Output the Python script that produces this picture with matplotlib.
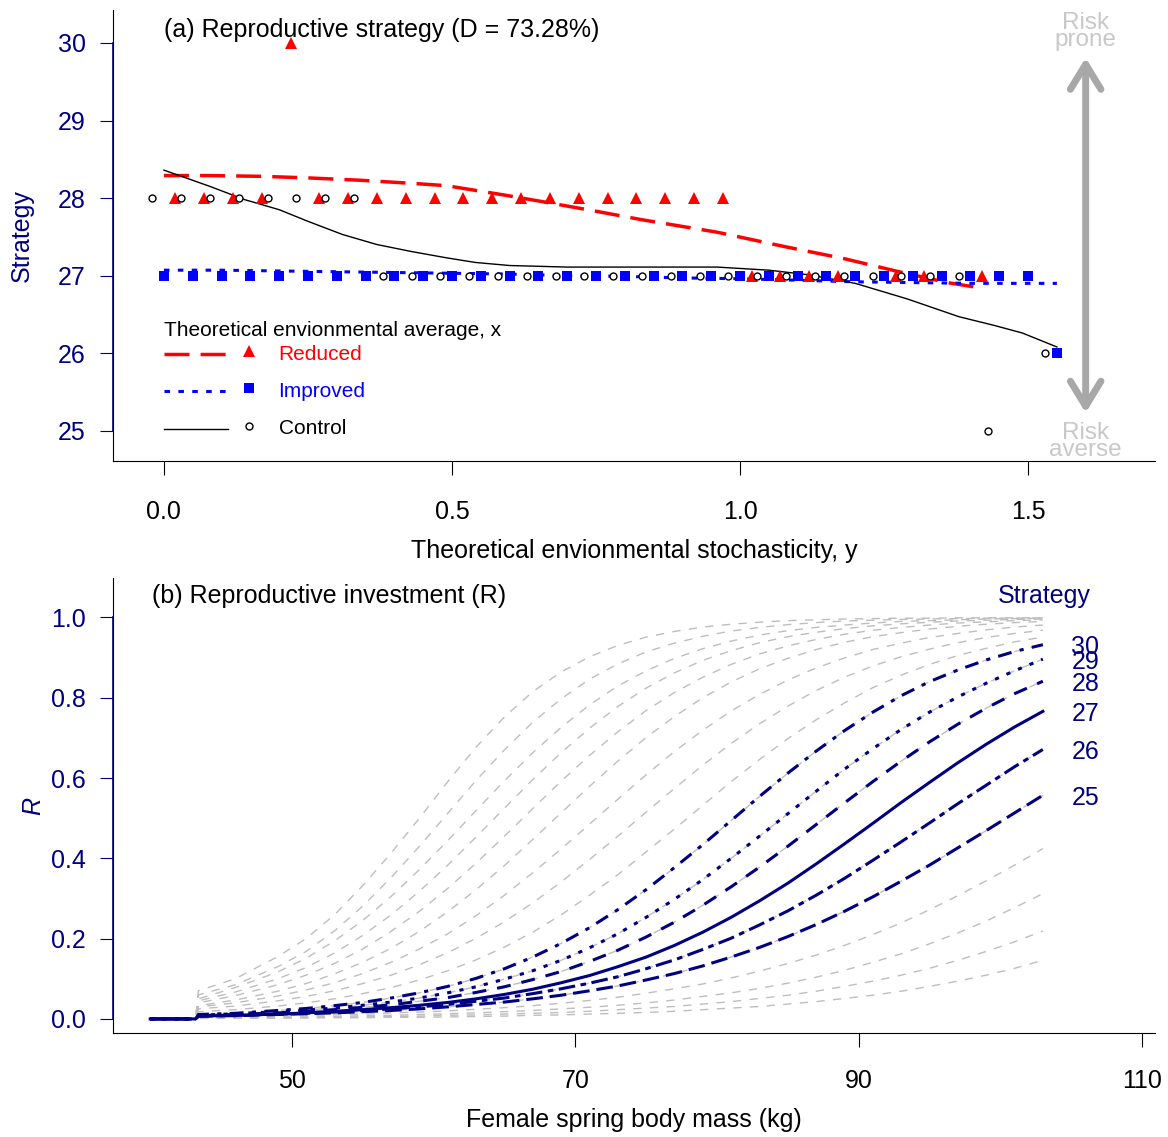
import matplotlib
matplotlib.use("Agg")
import matplotlib.pyplot as plt

plt.rcParams["font.family"] = ["Liberation Sans", "DejaVu Sans"]
plt.rcParams["lines.scale_dashes"] = False

NAVY = "#000080"
GRAY = "#BEBEBE"

# ---- panel (a): optimal strategy vs environmental stochasticity ----
reduced_x = [0.02, 0.07, 0.12, 0.17, 0.22, 0.27, 0.32, 0.37, 0.42, 0.47, 0.52, 0.57, 0.62, 0.67,
             0.72, 0.77, 0.82, 0.87, 0.92, 0.97, 1.02, 1.07, 1.12, 1.17, 1.27, 1.32, 1.42]
reduced_y = [28, 28, 28, 28, 30, 28, 28, 28, 28, 28, 28, 28, 28, 28,
             28, 28, 28, 28, 28, 28, 27, 27, 27, 27, 27, 27, 27]

improved_x = [0.00, 0.05, 0.10, 0.15, 0.20, 0.25, 0.30, 0.35, 0.40, 0.45, 0.50, 0.55, 0.60, 0.65,
              0.70, 0.75, 0.80, 0.85, 0.90, 0.95, 1.00, 1.05, 1.10, 1.15, 1.20, 1.25, 1.30, 1.35,
              1.40, 1.45, 1.50, 1.55]
improved_y = [27, 27, 27, 27, 27, 27, 27, 27, 27, 27, 27, 27, 27, 27,
              27, 27, 27, 27, 27, 27, 27, 27, 27, 27, 27, 27, 27, 27,
              27, 27, 27, 26]

control_x = [-0.02, 0.03, 0.08, 0.13, 0.18, 0.23, 0.28, 0.33, 0.38, 0.43, 0.48, 0.53, 0.58, 0.63,
             0.68, 0.73, 0.78, 0.83, 0.88, 0.93, 0.98, 1.03, 1.08, 1.13, 1.18, 1.23, 1.28, 1.33,
             1.38, 1.43, 1.53]
control_y = [28, 28, 28, 28, 28, 28, 28, 28, 27, 27, 27, 27, 27, 27,
             27, 27, 27, 27, 27, 27, 27, 27, 27, 27, 27, 27, 27, 27,
             27, 25, 26]

# smoothed trends
reduced_line_x = [0.0, 0.08, 0.17, 0.25, 0.34, 0.43, 0.49, 0.54, 0.59, 0.66, 0.75, 0.83, 0.96,
                  1.08, 1.18, 1.27, 1.36, 1.41]
reduced_line_y = [28.29, 28.29, 28.28, 28.26, 28.23, 28.19, 28.16, 28.10, 28.04, 27.95, 27.83,
                  27.72, 27.56, 27.37, 27.22, 27.06, 26.91, 26.85]

improved_line_x = [0.0, 0.1, 0.2, 0.3, 0.4, 0.5, 0.6, 0.7, 0.8, 0.9, 1.0, 1.1, 1.2, 1.3, 1.4, 1.5, 1.55]
improved_line_y = [27.07, 27.07, 27.06, 27.05, 27.04, 27.03, 27.02, 27.00, 26.99, 26.97, 26.96,
                   26.94, 26.92, 26.91, 26.90, 26.90, 26.90]

control_line_x = [0.0, 0.08, 0.14, 0.2, 0.25, 0.31, 0.37, 0.43, 0.49, 0.54, 0.6, 0.7, 0.8, 0.9,
                  0.96, 1.05, 1.12, 1.2, 1.29, 1.38, 1.44, 1.49, 1.55]
control_line_y = [28.36, 28.15, 27.98, 27.85, 27.70, 27.53, 27.40, 27.31, 27.23, 27.17, 27.13,
                  27.11, 27.11, 27.11, 27.11, 27.07, 27.01, 26.90, 26.70, 26.47, 26.36, 26.26, 26.08]

# ---- panel (b): reproductive investment R per strategy, vs body mass ----
mass = [40, 43.2, 43.4, 46, 49, 51, 53, 55, 57, 59, 61, 63, 65, 67, 69, 71, 73, 75, 77, 79,
        81, 83, 85, 87, 89, 91, 93, 95, 97, 99, 101, 103]

r21 = [0, 0, 0.001, 0.002, 0.002, 0.002, 0.003, 0.003, 0.004, 0.004, 0.005, 0.006, 0.007, 0.009, 0.010, 0.012,
       0.014, 0.016, 0.019, 0.023, 0.027, 0.031, 0.037, 0.043, 0.051, 0.059, 0.069, 0.081, 0.094, 0.109, 0.126, 0.146]
r22 = [0, 0, 0.002, 0.002, 0.003, 0.004, 0.004, 0.005, 0.006, 0.007, 0.009, 0.010, 0.012, 0.014, 0.016, 0.019,
       0.023, 0.027, 0.031, 0.037, 0.043, 0.051, 0.059, 0.069, 0.081, 0.094, 0.109, 0.126, 0.146, 0.168, 0.192, 0.219]
r23 = [0, 0, 0.003, 0.004, 0.005, 0.005, 0.006, 0.008, 0.009, 0.011, 0.013, 0.015, 0.018, 0.021, 0.025, 0.029,
       0.034, 0.040, 0.047, 0.056, 0.065, 0.076, 0.089, 0.104, 0.121, 0.141, 0.162, 0.187, 0.214, 0.244, 0.277, 0.312]
r24 = [0, 0, 0.005, 0.006, 0.007, 0.009, 0.010, 0.012, 0.015, 0.017, 0.020, 0.024, 0.028, 0.033, 0.039, 0.046,
       0.054, 0.064, 0.075, 0.087, 0.102, 0.119, 0.138, 0.159, 0.183, 0.210, 0.239, 0.272, 0.307, 0.344, 0.383, 0.424]
r25 = [0, 0, 0.007, 0.008, 0.011, 0.013, 0.015, 0.018, 0.021, 0.025, 0.030, 0.036, 0.042, 0.050, 0.059, 0.070,
       0.082, 0.097, 0.113, 0.132, 0.154, 0.178, 0.205, 0.235, 0.268, 0.304, 0.343, 0.383, 0.426, 0.469, 0.513, 0.557]
r26 = [0, 0, 0.007, 0.009, 0.012, 0.014, 0.017, 0.021, 0.025, 0.030, 0.036, 0.044, 0.052, 0.063, 0.075, 0.089,
       0.105, 0.125, 0.147, 0.173, 0.201, 0.234, 0.269, 0.308, 0.350, 0.395, 0.441, 0.488, 0.536, 0.582, 0.628, 0.671]
r27 = [0, 0, 0.007, 0.009, 0.012, 0.015, 0.019, 0.023, 0.028, 0.034, 0.041, 0.050, 0.061, 0.074, 0.090, 0.108,
       0.130, 0.154, 0.183, 0.216, 0.253, 0.294, 0.338, 0.386, 0.436, 0.487, 0.539, 0.589, 0.638, 0.684, 0.727, 0.766]
r28 = [0, 0, 0.008, 0.011, 0.015, 0.019, 0.023, 0.029, 0.035, 0.044, 0.053, 0.066, 0.080, 0.098, 0.118, 0.143,
       0.171, 0.204, 0.241, 0.283, 0.329, 0.378, 0.430, 0.484, 0.538, 0.591, 0.642, 0.690, 0.734, 0.774, 0.810, 0.841]
r29 = [0, 0, 0.009, 0.013, 0.018, 0.022, 0.027, 0.034, 0.042, 0.052, 0.065, 0.080, 0.099, 0.120, 0.146, 0.177,
       0.212, 0.253, 0.298, 0.347, 0.400, 0.455, 0.511, 0.567, 0.622, 0.673, 0.721, 0.764, 0.802, 0.836, 0.867, 0.896]
r30 = [0, 0, 0.011, 0.014, 0.021, 0.026, 0.033, 0.041, 0.052, 0.065, 0.081, 0.101, 0.125, 0.154, 0.188, 0.227,
       0.272, 0.322, 0.377, 0.434, 0.494, 0.554, 0.612, 0.667, 0.718, 0.764, 0.805, 0.840, 0.869, 0.894, 0.915, 0.932]
r31 = [0, 0, 0.018, 0.023, 0.032, 0.040, 0.050, 0.063, 0.078, 0.097, 0.120, 0.147, 0.179, 0.216, 0.259, 0.308,
       0.359, 0.416, 0.473, 0.532, 0.591, 0.646, 0.698, 0.745, 0.787, 0.825, 0.856, 0.883, 0.905, 0.923, 0.939, 0.951]
r32 = [0, 0, 0.025, 0.032, 0.045, 0.056, 0.070, 0.088, 0.109, 0.135, 0.165, 0.201, 0.242, 0.289, 0.341, 0.397,
       0.455, 0.515, 0.574, 0.632, 0.686, 0.735, 0.779, 0.818, 0.851, 0.879, 0.902, 0.921, 0.937, 0.950, 0.960, 0.968]
r33 = [0, 0, 0.030, 0.040, 0.057, 0.072, 0.090, 0.113, 0.141, 0.174, 0.212, 0.257, 0.308, 0.364, 0.423, 0.485,
       0.547, 0.608, 0.666, 0.719, 0.767, 0.808, 0.844, 0.874, 0.899, 0.920, 0.936, 0.950, 0.960, 0.969, 0.976, 0.981]
r34 = [0, 0, 0.033, 0.047, 0.069, 0.088, 0.112, 0.141, 0.176, 0.218, 0.267, 0.322, 0.382, 0.447, 0.513, 0.579,
       0.642, 0.701, 0.753, 0.800, 0.839, 0.872, 0.898, 0.920, 0.938, 0.952, 0.962, 0.971, 0.978, 0.983, 0.987, 0.990]
r35 = [0, 0, 0.040, 0.058, 0.085, 0.109, 0.138, 0.174, 0.218, 0.268, 0.325, 0.388, 0.455, 0.524, 0.592, 0.656,
       0.715, 0.768, 0.813, 0.851, 0.883, 0.909, 0.929, 0.945, 0.958, 0.968, 0.975, 0.981, 0.986, 0.989, 0.992, 0.994]
r36 = [0, 0, 0.045, 0.067, 0.100, 0.128, 0.164, 0.208, 0.259, 0.318, 0.383, 0.453, 0.525, 0.596, 0.663, 0.724,
       0.778, 0.824, 0.862, 0.893, 0.917, 0.937, 0.952, 0.963, 0.972, 0.979, 0.984, 0.988, 0.991, 0.993, 0.995, 0.996]
r37 = [0, 0, 0.050, 0.078, 0.117, 0.151, 0.194, 0.245, 0.305, 0.372, 0.444, 0.519, 0.593, 0.663, 0.726, 0.782,
       0.829, 0.867, 0.898, 0.922, 0.941, 0.956, 0.967, 0.975, 0.981, 0.986, 0.990, 0.992, 0.994, 0.996, 0.997, 0.998]
r38 = [0, 0, 0.060, 0.085, 0.130, 0.168, 0.219, 0.281, 0.352, 0.430, 0.512, 0.594, 0.670, 0.739, 0.797, 0.846,
       0.884, 0.914, 0.936, 0.953, 0.966, 0.975, 0.982, 0.987, 0.991, 0.993, 0.995, 0.996, 0.997, 0.998, 0.998, 0.999]
r39 = [0, 0, 0.070, 0.100, 0.155, 0.200, 0.259, 0.332, 0.413, 0.500, 0.591, 0.677, 0.752, 0.815, 0.864, 0.902,
       0.930, 0.951, 0.965, 0.976, 0.983, 0.988, 0.992, 0.994, 0.996, 0.997, 0.998, 0.998, 0.999, 0.999, 0.999, 0.999]

all_curves = [r21, r22, r23, r24, r25, r26, r27, r28, r29, r30,
              r31, r32, r33, r34, r35, r36, r37, r38, r39]
highlight = {25: r25, 26: r26, 27: r27, 28: r28, 29: r29, 30: r30}
highlight_dash = {
    25: (0, (12, 5)),
    26: (0, (4, 4, 12, 4)),
    27: "-",
    28: (0, (10, 8)),
    29: (0, (3, 6)),
    30: (0, (3, 6, 10, 6)),
}

fig = plt.figure(figsize=(11.68, 11.37), dpi=100)
ax1 = fig.add_axes([0.0967, 0.5946, 0.892, 0.3966])
ax2 = fig.add_axes([0.0967, 0.0915, 0.892, 0.4001])

# ---------------- panel (a) ----------------
ax1.plot(reduced_line_x, reduced_line_y, color="red", lw=2.5, linestyle=(0, (18, 8)))
ax1.plot(improved_line_x, improved_line_y, color="blue", lw=2.2, linestyle=(0, (4, 6)))
ax1.plot(control_line_x, control_line_y, color="black", lw=1.0)
ax1.plot(reduced_x, reduced_y, "^", color="red", ms=8, mew=0, linestyle="none")
ax1.plot(improved_x, improved_y, "s", color="blue", ms=6.5, mew=0, linestyle="none")
ax1.plot(control_x, control_y, "o", mfc="white", mec="black", ms=5, mew=1, linestyle="none")

ax1.set_xlim(-0.0885, 1.72)
ax1.set_ylim(24.61, 30.425)
ax1.spines["top"].set_visible(False)
ax1.spines["right"].set_visible(False)
ax1.plot([0, 0], [25, 30], color=NAVY, lw=1.2, transform=ax1.get_yaxis_transform(), clip_on=False)

ax1.set_xticks([0.0, 0.5, 1.0, 1.5])
ax1.set_xticklabels(["0.0", "0.5", "1.0", "1.5"])
ax1.set_yticks([25, 26, 27, 28, 29, 30])
ax1.tick_params(axis="x", labelsize=18, length=10, pad=18)
ax1.tick_params(axis="y", colors=NAVY, labelsize=18, length=9.5, pad=10)
ax1.set_xlabel("Theoretical envionmental stochasticity, y", fontsize=18, labelpad=11)
ax1.set_ylabel("Strategy", fontsize=18, color=NAVY, labelpad=17)

ax1.text(0.0, 30.17, "(a) Reproductive strategy (D = 73.28%)", fontsize=18, ha="left", va="center")

# legend drawn by hand to mimic the base-R layout
T = ax1.transAxes
ax1.text(0.049, 0.290, "Theoretical envionmental average, x", fontsize=15, ha="left", va="center",
         transform=T)
legend_rows = [
    ("Reduced", "red", (0, (18, 8)), 2.5, "^", 0.237, dict(mfc="red", mec="red", ms=8, mew=0)),
    ("Improved", "blue", (0, (4, 6)), 2.2, "s", 0.155, dict(mfc="blue", mec="blue", ms=6.5, mew=0)),
    ("Control", "black", "-", 1.0, "o", 0.071, dict(mfc="white", mec="black", ms=5, mew=1)),
]
for label, col, ls, lw, mk, yy, mkw in legend_rows:
    ax1.plot([0.049, 0.110], [yy, yy], color=col, lw=lw, linestyle=ls, transform=T, clip_on=False)
    ax1.plot([0.131], [yy + 0.006], mk, transform=T, clip_on=False, **mkw)
    ax1.text(0.159, yy, label, color=col, fontsize=15, ha="left", va="center", transform=T)

# risk arrow
ax1.annotate("", xy=(1.60, 29.81), xytext=(1.60, 25.23),
             arrowprops=dict(arrowstyle="<->, head_length=0.9, head_width=0.55", lw=5,
                             color="#A8A8A8", mutation_scale=20, shrinkA=0, shrinkB=0,
                             capstyle="round", joinstyle="round"))
ax1.text(1.60, 30.15, "Risk\nprone", color="#C8C8C8", fontsize=17.5, ha="center", va="center",
         linespacing=0.72, clip_on=False)
ax1.text(1.60, 24.86, "Risk\naverse", color="#C8C8C8", fontsize=17.5, ha="center", va="center",
         linespacing=0.72, clip_on=False)

# ---------------- panel (b) ----------------
for curve in all_curves:
    ax2.plot(mass, curve, color=GRAY, lw=1.0, linestyle=(0, (6, 6)))
for s, curve in highlight.items():
    ax2.plot(mass, curve, color=NAVY, lw=2.2, linestyle=highlight_dash[s])
    ax2.text(106, curve[-1] - 0.006, str(s), color=NAVY, fontsize=18, ha="center", va="center")

ax2.text(103.07, 1.053, "Strategy", color=NAVY, fontsize=18, ha="center", va="center")
ax2.text(40.12, 1.053, "(b) Reproductive investment (R)", fontsize=18, ha="left", va="center")

ax2.set_xlim(37.37, 110.9)
ax2.set_ylim(-0.035, 1.098)
ax2.spines["top"].set_visible(False)
ax2.spines["right"].set_visible(False)
ax2.plot([0, 0], [0, 1], color=NAVY, lw=1.2, transform=ax2.get_yaxis_transform(), clip_on=False)
ax2.set_xticks([50, 70, 90, 110])
ax2.set_yticks([0.0, 0.2, 0.4, 0.6, 0.8, 1.0])
ax2.set_yticklabels(["0.0", "0.2", "0.4", "0.6", "0.8", "1.0"])
ax2.tick_params(axis="x", labelsize=18, length=10, pad=16)
ax2.tick_params(axis="y", colors=NAVY, labelsize=18, length=9.5, pad=10)
ax2.set_xlabel("Female spring body mass (kg)", fontsize=18, labelpad=11)
ax2.set_ylabel("R", fontsize=18, color=NAVY, style="italic", labelpad=4)

fig.savefig("out.png", dpi=100)
